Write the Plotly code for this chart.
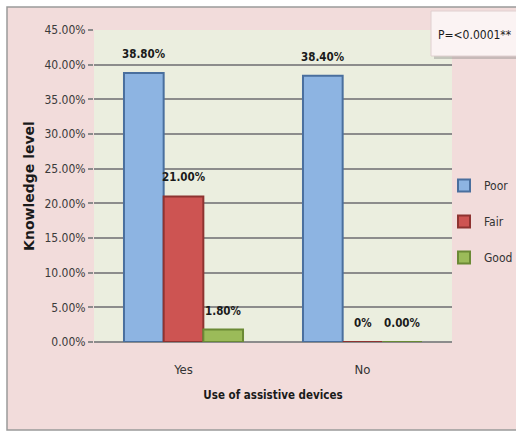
import plotly.graph_objects as go

# Knowledge level by use of assistive devices
categories = ["Yes", "No"]
levels = ["Poor", "Fair", "Good"]
values = {
    "Poor": [0.388, 0.384],
    "Fair": [0.210, 0.0],
    "Good": [0.018, 0.0],
}
labels = {
    "Poor": ["38.80%", "38.40%"],
    "Fair": ["21.00%", "0%"],
    "Good": ["1.80%", "0.00%"],
}
y_ticks = [0, 0.05, 0.10, 0.15, 0.20, 0.25, 0.30, 0.35, 0.40, 0.45]

fills = {"Poor": "#8DB4E2", "Fair": "#CD5452", "Good": "#9BBB59"}
edges = {"Poor": "#4A6F9E", "Fair": "#8E3331", "Good": "#6B8A35"}

NARROW = "DejaVu Sans Condensed, Liberation Sans Narrow, sans-serif"
W, H = 516, 432
L, R, T, B = 94, 64, 30, 90
pw, ph = W - L - R, H - T - B


def px_x(p):
    return (p - L) / pw


def px_y(p):
    return (H - B - p) / ph


fig = go.Figure()
for i, lv in enumerate(levels):
    fig.add_trace(go.Bar(
        name=lv, x=categories, y=values[lv],
        marker=dict(color=fills[lv], line=dict(color=edges[lv], width=2)),
        legendgroup=lv,
    ))

# value labels above each bar
bar_w = pw / len(categories) * (1 - 0.335) / len(levels)
for i, lv in enumerate(levels):
    for c, v, t in zip(categories, values[lv], labels[lv]):
        fig.add_annotation(
            x=c, y=v, text="<b>" + t + "</b>", showarrow=False,
            xref="x", yref="y",
            xshift=(i - 1) * bar_w, yshift=19,
            font=dict(family=NARROW, size=11.5, color="#1a1a1a"),
        )

shapes = [
    # outer chart background with frame
    dict(type="rect", xref="paper", yref="paper", layer="below",
         x0=px_x(7), x1=px_x(520), y0=px_y(430), y1=px_y(7),
         fillcolor="#F2DCDB", line=dict(color="#9a9a9a", width=1.5)),
    # plot area fill
    dict(type="rect", xref="x domain", yref="y domain", layer="below",
         x0=0, x1=1, y0=0, y1=1, fillcolor="#EBEEDF", line=dict(width=0)),
    # p-value box shadow and box
    dict(type="rect", xref="paper", yref="paper",
         x0=px_x(434), x1=px_x(520), y0=px_y(59), y1=px_y(14),
         fillcolor="rgba(120,120,120,0.35)", line=dict(width=0)),
    dict(type="rect", xref="paper", yref="paper",
         x0=px_x(431), x1=px_x(520), y0=px_y(56), y1=px_y(11),
         fillcolor="#FBF3F3", line=dict(color="#e0d0d0", width=1)),
]

fig.add_annotation(
    x=px_x(475), y=px_y(35), xref="paper", yref="paper",
    xanchor="center", yanchor="middle",
    text="P=<0.0001**", showarrow=False,
    font=dict(family=NARROW, size=12, color="#1a1a1a"),
)

fig.update_layout(
    width=W, height=H,
    margin=dict(l=L, r=R, t=T, b=B, autoexpand=False),
    paper_bgcolor="white",
    plot_bgcolor="rgba(0,0,0,0)",
    barmode="group", bargap=0.335, bargroupgap=0,
    shapes=shapes,
    showlegend=True,
    legend=dict(
        x=px_x(444), y=px_y(171), xanchor="left", yanchor="top",
        bgcolor="rgba(0,0,0,0)", tracegroupgap=17,
        font=dict(family=NARROW, size=12, color="#333333"),
        itemwidth=30,
    ),
    font=dict(family=NARROW, color="#333333"),
)

fig.update_yaxes(
    range=[0, 0.45], tickvals=y_ticks, tickformat=".2%",
    showgrid=True, gridcolor="#8C8C8C", gridwidth=2,
    zeroline=True, zerolinecolor="#8C8C8C", zerolinewidth=2,
    ticks="outside", ticklen=5, tickcolor="#8C8C8C", tickwidth=2,
    tickfont=dict(family=NARROW, size=12, color="#3a3a3a"),
    title=dict(text="<b>Knowledge level</b>", standoff=6,
               font=dict(family="DejaVu Sans", size=14, color="#1a1a1a")),
)
fig.update_xaxes(
    showgrid=False, ticks="", ticklabelstandoff=18,
    tickfont=dict(family=NARROW, size=13, color="#333333"),
    title=dict(text="<b>Use of assistive devices</b>", standoff=14,
               font=dict(family=NARROW, size=11.5, color="#1a1a1a")),
)

fig.write_html("out.html")
